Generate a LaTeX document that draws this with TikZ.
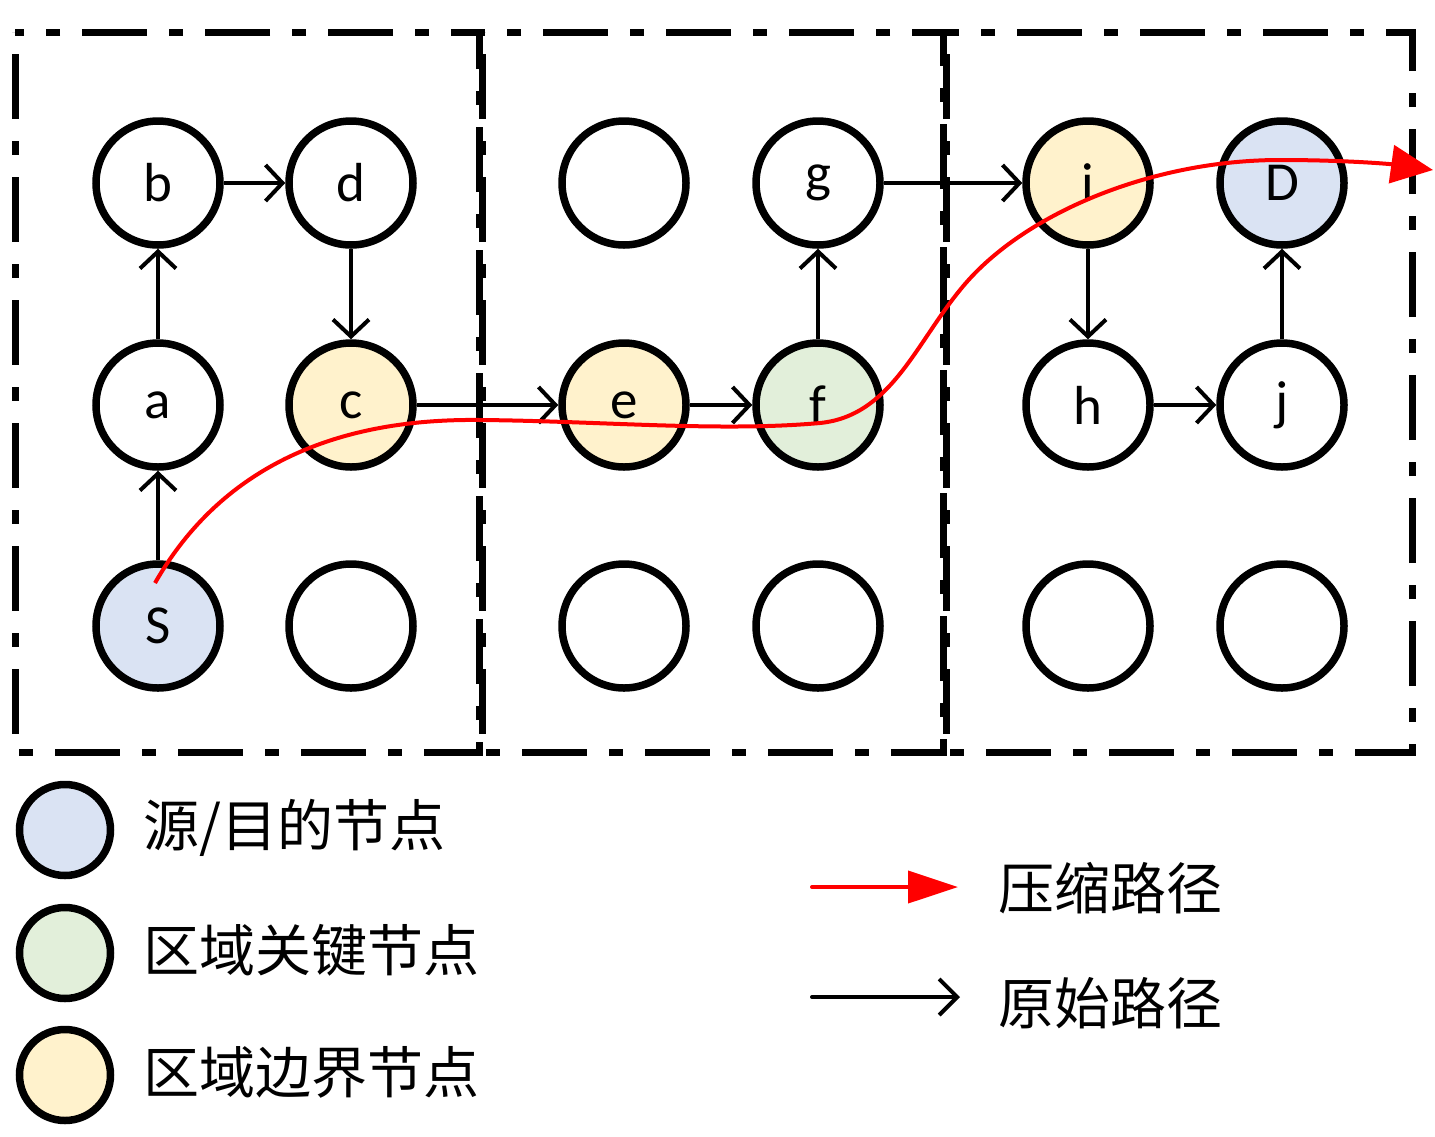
\documentclass[tikz,border=0pt]{standalone}
\usepackage{fontspec}
\setmainfont{Carlito}
\newfontfamily\cjk{Noto Sans CJK SC}
\usetikzlibrary{arrows.meta}
\definecolor{srcblue}{HTML}{DAE3F3}
\definecolor{keygreen}{HTML}{E2EFDA}
\definecolor{bordyellow}{HTML}{FFF2CC}
\begin{document}
\begin{tikzpicture}[x=1pt,y=-1pt,
 nd/.style={circle,draw,line width=7.5pt,minimum size=124pt,inner sep=0pt,font=\fontsize{55}{60}\selectfont},
 lg/.style={circle,draw,line width=7.5pt,minimum size=91pt,inner sep=0pt},
 region/.style={line width=7pt,dash pattern=on 65pt off 22pt on 14pt off 22pt,dash phase=101pt},
 edge/.style={line width=4pt,-{Straight Barb[length=17pt,width=36pt,line width=4pt]}},
 fast/.style={red,line width=4pt,-{Triangle[length=42pt,width=38pt]}},
 lbl/.style={anchor=west,font=\cjk\fontsize{56}{60}\selectfont,inner sep=0pt}]
\useasboundingbox (0,0) rectangle (1435,1136);
% regions
\draw[region] (15,32) rectangle (479,752);
\draw[region] (482,32) rectangle (943,752);
\draw[region] (946,32) rectangle (1412,752);
% nodes row 1
\node[nd] (b) at (158,183) {b};
\node[nd] (d) at (351,183) {d};
\node[nd] (n1) at (624,183) {};
\node[nd] (g) at (818,183) {g};
\node[nd,fill=bordyellow] (i) at (1088,183) {i};
\node[nd,fill=srcblue] (D) at (1282,183) {D};
% row 2
\node[nd] (a) at (158,405) {a};
\node[nd,fill=bordyellow] (c) at (351,405) {c};
\node[nd,fill=bordyellow] (e) at (624,405) {e};
\node[nd,fill=keygreen] (f) at (818,405) {f};
\node[nd] (h) at (1088,405) {h};
\node[nd] (j) at (1282,405) {j};
% row 3
\node[nd,fill=srcblue] (S) at (158,626) {S};
\node[nd] (n2) at (351,626) {};
\node[nd] (n3) at (624,626) {};
\node[nd] (n4) at (818,626) {};
\node[nd] (n5) at (1088,626) {};
\node[nd] (n6) at (1282,626) {};
% original path edges
\draw[edge] (S) -- (a);
\draw[edge] (a) -- (b);
\draw[edge] (b) -- (d);
\draw[edge] (d) -- (c);
\draw[edge] (c) -- (e);
\draw[edge] (e) -- (f);
\draw[edge] (f) -- (g);
\draw[edge] (g) -- (i);
\draw[edge] (i) -- (h);
\draw[edge] (h) -- (j);
\draw[edge] (j) -- (D);
% compressed path
\coordinate (rs) at (155,583);
\coordinate (re) at (1433,170);
\draw[fast] (rs) .. controls (215,478) and (320,418) .. (480,420)
  .. controls (600,421) and (720,432) .. (820,423)
  .. controls (890,416) and (915,345) .. (960,290)
  .. controls (1020,215) and (1150,160) .. (1280,160)
  .. controls (1345,160) and (1390,164) .. (re);
% legend
\node[lg,fill=srcblue] (L1) at (65,830) {};
\node[lg,fill=keygreen] (L2) at (65,953) {};
\node[lg,fill=bordyellow] (L3) at (65,1075) {};
\node[lbl] (T1) at (143,828) {源/目的节点};
\node[lbl] (T2) at (143,950) {区域关键节点};
\node[lbl] (T3) at (143,1072) {区域边界节点};
\coordinate (A1s) at (812,887);
\coordinate (A1e) at (958,887);
\coordinate (A2s) at (812,997);
\coordinate (A2e) at (960,997);
\draw[red,line width=4pt,line cap=round,-{Triangle[length=50pt,width=32pt]}] (A1s) -- (A1e);
\draw[line width=4pt,line cap=round,-{Straight Barb[length=18pt,width=36pt,line width=4pt]}] (A2s) -- (A2e);
\node[lbl] (T4) at (998,888) {压缩路径};
\node[lbl] (T5) at (998,1003) {原始路径};
\end{tikzpicture}
\end{document}
